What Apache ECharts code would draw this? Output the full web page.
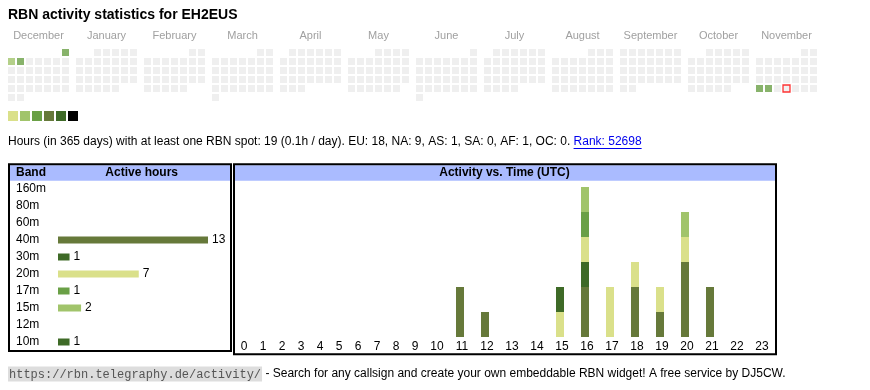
<!DOCTYPE html>
<html><head><meta charset="utf-8">
<script src="https://cdn.jsdelivr.net/npm/echarts@6/dist/echarts.min.js"></script>
<style>html,body{margin:0;padding:0;background:#fff}#c{width:870px;height:390px}</style>
</head><body><div id="c"></div>
<script>
// ---------------- data ----------------
const titleText = 'RBN activity statistics for EH2EUS';
const monthNames = ['December','January','February','March','April','May','June','July','August','September','October','November'];
const firstYear = 2024, firstMonthIdx = 11; // December 2024
const activeDays = ['2024-12-01','2024-12-02','2024-12-03','2025-11-24','2025-11-25'];
const activeLevels = [3, 2, 3, 3, 3];
const today = '2025-11-27';
const levelColors = ['#dae08a','#a1c46b','#6aa046','#66793a','#3e6a27','#000000'];
const statsText = 'Hours (in 365 days) with at least one RBN spot: 19 (0.1h / day). EU: 18, NA: 9, AS: 1, SA: 0, AF: 1, OC: 0. ';
const rankText = 'Rank: 52698';
const footerUrl = 'https://rbn.telegraphy.de/activity/';
const footerText = ' - Search for any callsign and create your own embeddable RBN widget! A free service by DJ5CW.';

const bands = ['160m','80m','60m','40m','30m','20m','17m','15m','12m','10m'];
const bandHours = [0, 0, 0, 13, 1, 7, 1, 2, 0, 1];
const bandColors = ['#000000','#3e6a27','#66793a','#66793a','#3e6a27','#dae08a','#6aa046','#a1c46b','#dae08a','#3e6a27'];

const hourLabels = ['0','1','2','3','4','5','6','7','8','9','10','11','12','13','14','15','16','17','18','19','20','21','22','23'];
//                 0 1 2 3 4 5 6 7 8 9 10 11 12 13 14 15 16 17 18 19 20 21 22 23
const h160m =     [0,0,0,0,0,0,0,0,0,0, 0, 0, 0, 0, 0, 0, 0, 0, 0, 0, 0, 0, 0, 0];
const h80m  =     [0,0,0,0,0,0,0,0,0,0, 0, 0, 0, 0, 0, 0, 0, 0, 0, 0, 0, 0, 0, 0];
const h60m  =     [0,0,0,0,0,0,0,0,0,0, 0, 0, 0, 0, 0, 0, 0, 0, 0, 0, 0, 0, 0, 0];
const h40m  =     [0,0,0,0,0,0,0,0,0,0, 0, 2, 1, 0, 0, 0, 2, 0, 2, 1, 3, 2, 0, 0];
const h30m  =     [0,0,0,0,0,0,0,0,0,0, 0, 0, 0, 0, 0, 0, 1, 0, 0, 0, 0, 0, 0, 0];
const h20m  =     [0,0,0,0,0,0,0,0,0,0, 0, 0, 0, 0, 0, 1, 1, 2, 1, 1, 1, 0, 0, 0];
const h17m  =     [0,0,0,0,0,0,0,0,0,0, 0, 0, 0, 0, 0, 0, 1, 0, 0, 0, 0, 0, 0, 0];
const h15m  =     [0,0,0,0,0,0,0,0,0,0, 0, 0, 0, 0, 0, 0, 1, 0, 0, 0, 1, 0, 0, 0];
const h12m  =     [0,0,0,0,0,0,0,0,0,0, 0, 0, 0, 0, 0, 0, 0, 0, 0, 0, 0, 0, 0, 0];
const h10m  =     [0,0,0,0,0,0,0,0,0,0, 0, 0, 0, 0, 0, 1, 0, 0, 0, 0, 0, 0, 0, 0];
const hourlyByBand = [h160m,h80m,h60m,h40m,h30m,h20m,h17m,h15m,h12m,h10m];

// ---------------- layout ----------------
const SANS = '"Liberation Sans", Arial, sans-serif';
const MONO = '"Liberation Mono", "Courier New", monospace';
const mctx = document.createElement('canvas').getContext('2d');
function tw(t, font) { mctx.font = font; return mctx.measureText(t).width; }

const grid = [], xAxis = [], yAxis = [], series = [];

// band bar chart (grid 0)
grid.push({left: 58, top: 180.5, width: 150, height: 170, containLabel: false, outerBoundsMode: 'none'});
xAxis.push({gridIndex: 0, type: 'value', min: 0, max: 13, show: false});
yAxis.push({gridIndex: 0, type: 'category', data: bands, inverse: true,
  axisLine: {show: false}, axisTick: {show: false}, splitLine: {show: false},
  axisLabel: {align: 'left', margin: 42, fontSize: 12, color: '#000', fontFamily: SANS}});
series.push({type: 'bar', xAxisIndex: 0, yAxisIndex: 0, barWidth: 7, silent: true,
  data: bandHours.map((v, i) => ({value: v, itemStyle: {color: bandColors[i]}})),
  label: {show: true, position: 'right', distance: 4, fontSize: 12, color: '#000', fontFamily: SANS,
    formatter: p => p.value > 0 ? String(p.value) : ''}});

// activity vs time: two grids (single-digit and double-digit hour columns)
const split = 10;
grid.push({left: 234.5, top: 187, width: 190, height: 150, containLabel: false, outerBoundsMode: 'none'});
grid.push({left: 422.5, top: 187, width: 350, height: 150, containLabel: false, outerBoundsMode: 'none'});
[[0, hourLabels.slice(0, split), [0,0,0,0]], [1, hourLabels.slice(split), [0,0,0,4]]].forEach(([k, cats, pad]) => {
  xAxis.push({gridIndex: 1 + k, type: 'category', data: cats,
    axisLine: {show: false}, axisTick: {show: false},
    axisLabel: {fontSize: 12, color: '#000', fontFamily: SANS, margin: 4, padding: pad, interval: 0}});
  yAxis.push({gridIndex: 1 + k, type: 'value', min: 0, max: 6, show: false});
  bands.forEach((b, bi) => {
    const arr = hourlyByBand[bi];
    series.push({type: 'bar', name: b, xAxisIndex: 1 + k, yAxisIndex: 1 + k, stack: 'act' + k,
      barWidth: 8, silent: true, itemStyle: {color: bandColors[bi]},
      data: k === 0 ? arr.slice(0, split) : arr.slice(split)});
  });
});

// calendar: one small grid per month, weeks as rows, weekdays as columns
monthNames.forEach((name, i) => {
  const gi = grid.length;
  grid.push({left: 7 + 68 * i, top: 48, width: 63, height: 54, containLabel: false, outerBoundsMode: 'none'});
  xAxis.push({gridIndex: gi, type: 'value', min: -0.5, max: 6.5, position: 'top',
    axisLine: {show: false}, axisTick: {show: false}, axisLabel: {show: false}, splitLine: {show: false},
    name: name, nameLocation: 'middle', nameGap: 7,
    nameTextStyle: {color: '#a0a0a0', fontSize: 11, fontFamily: SANS}});
  yAxis.push({gridIndex: gi, type: 'value', min: -0.5, max: 5.5, inverse: true, show: false});
  const y = firstYear + Math.floor((firstMonthIdx + i) / 12);
  const m = (firstMonthIdx + i) % 12;
  const dow0 = (new Date(Date.UTC(y, m, 1)).getUTCDay() + 6) % 7;
  const nDays = new Date(Date.UTC(y, m + 1, 0)).getUTCDate();
  const pts = [];
  for (let d = 1; d <= nDays; d++) {
    const k = dow0 + d - 1;
    const iso = y + '-' + String(m + 1).padStart(2, '0') + '-' + String(d).padStart(2, '0');
    const ai = activeDays.indexOf(iso);
    const st = {color: ai >= 0 ? levelColors[activeLevels[ai] - 1] : '#ebebeb'};
    if (iso === today) { st.borderColor = '#ff0000'; st.borderWidth = 1.3; st.color = '#eeeeee'; }
    pts.push({value: [k % 7, Math.floor(k / 7)], itemStyle: st});
  }
  series.push({type: 'scatter', xAxisIndex: gi, yAxisIndex: gi, symbol: 'rect', symbolSize: 7,
    silent: true, data: pts});
});

// ---------------- graphics (texts, frames) ----------------
const statsFont = '12px ' + SANS;
const statsW = tw(statsText, statsFont);
const rankW = tw(rankText, statsFont);
const graphic = [
  {type: 'text', left: 8, top: 8, style: {text: titleText, font: 'bold 14px ' + SANS, fill: '#000'}},
  {type: 'text', x: 8, y: 142, style: {text: statsText, font: statsFont, fill: '#000', verticalAlign: 'middle'}},
  {type: 'text', x: 8 + statsW, y: 142, style: {text: rankText, font: statsFont, fill: '#0000ee', verticalAlign: 'middle'}},
  {type: 'line', shape: {x1: 8 + statsW, y1: 148.5, x2: 8 + statsW + rankW, y2: 148.5}, style: {stroke: '#0000ee', lineWidth: 1}},
  // header backgrounds
  {type: 'rect', shape: {x: 10, y: 165.3, width: 220, height: 15.4}, style: {fill: '#aabbff'}},
  {type: 'rect', shape: {x: 235, y: 165.3, width: 540, height: 15.4}, style: {fill: '#aabbff'}},
  {type: 'text', x: 16, y: 173, style: {text: 'Band', font: 'bold 12px ' + SANS, fill: '#000', verticalAlign: 'middle'}},
  {type: 'text', x: 141.7, y: 173, style: {text: 'Active hours', font: 'bold 12px ' + SANS, fill: '#000', align: 'center', verticalAlign: 'middle'}},
  {type: 'text', x: 504.5, y: 173, style: {text: 'Activity vs. Time (UTC)', font: 'bold 12px ' + SANS, fill: '#000', align: 'center', verticalAlign: 'middle'}},
  // frames
  {type: 'rect', shape: {x: 9, y: 164.3, width: 222, height: 186.7}, style: {fill: null, stroke: '#000', lineWidth: 2}},
  {type: 'rect', shape: {x: 234, y: 164.3, width: 542, height: 190}, style: {fill: null, stroke: '#000', lineWidth: 2}},
  // footer
  {type: 'text', x: 8, y: 374, style: {
    text: '{u|' + footerUrl + '}{t|' + footerText + '}', verticalAlign: 'middle',
    rich: {
      u: {fontFamily: MONO, fontSize: 12, fill: '#555', backgroundColor: '#dddddd', padding: [2, 1, 1, 1]},
      t: {fontFamily: SANS, fontSize: 12, fill: '#000'}
    }}}
];
levelColors.forEach((c, i) => {
  graphic.push({type: 'rect', shape: {x: 8 + 12 * i, y: 111, width: 10, height: 10}, style: {fill: c}});
});

const chart = echarts.init(document.getElementById('c'), null, {renderer: 'canvas'});
chart.setOption({animation: false, grid, xAxis, yAxis, series, graphic});
</script>
</body></html>
